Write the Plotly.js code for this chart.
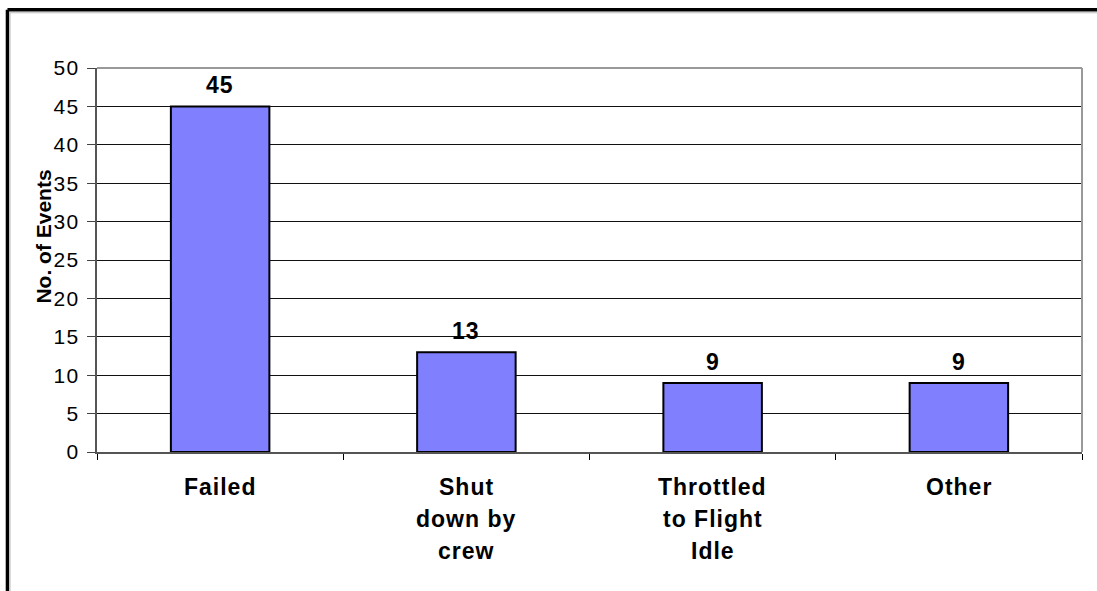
<!DOCTYPE html>
<html>
<head>
<meta charset="utf-8">
<script src="https://cdn.plot.ly/plotly-3.0.1.min.js"></script>
<style>
  html, body { margin: 0; padding: 0; background: #fff; }
  #chart { width: 1097px; height: 591px; }
</style>
</head>
<body>
<div id="chart"></div>
<script>
// ---- data ----
const categories = ["Failed", "Shut down by crew", "Throttled to Flight Idle", "Other"];
const labelLines = [["Failed"], ["Shut", "down by", "crew"], ["Throttled", "to Flight", "Idle"], ["Other"]];
const events = [45, 13, 9, 9];
const yTickVals = [0, 5, 10, 15, 20, 25, 30, 35, 40, 45, 50];
const yTitle = "No. of Events";

const FONT = "Liberation Sans, Arial, Helvetica, sans-serif";
const spaced = (t, s) => '<span style="letter-spacing:' + s + 'px">' + t + '</span>';

const trace = {
  type: "bar",
  x: categories,
  y: events,
  width: 0.4,
  marker: { color: "#8080FF", line: { color: "#000000", width: 2 } },
  hoverinfo: "x+y",
  showlegend: false
};

const annotations = [];
// value labels above bars
categories.forEach((c, i) => {
  annotations.push({
    xref: "x", yref: "y", x: c, y: events[i],
    text: spaced(String(events[i]), 1), showarrow: false,
    yanchor: "bottom", yshift: 6,
    font: { family: FONT, size: 23, color: "#000", weight: "bold" }
  });
});
// category labels (multi-line)
categories.forEach((c, i) => {
  labelLines[i].forEach((ln, j) => {
    annotations.push({
      xref: "x", yref: "paper", x: c, y: 0,
      text: spaced(ln, 1), showarrow: false,
      yanchor: "middle", yshift: -35 - 32 * j,
      font: { family: FONT, size: 23, color: "#000", weight: "bold" }
    });
  });
});
// y-axis title
annotations.push({
  xref: "paper", yref: "paper", x: -0.0538, y: 0.561,
  text: yTitle, showarrow: false, textangle: -90,
  xanchor: "center", yanchor: "middle",
  font: { family: FONT, size: 21, color: "#000", weight: "bold" }
});

const layout = {
  width: 1097, height: 591,
  margin: { l: 97, r: 15, t: 68, b: 139, pad: 0 },
  paper_bgcolor: "#ffffff",
  plot_bgcolor: "#ffffff",
  font: { family: FONT, color: "#000" },
  xaxis: {
    type: "category",
    showticklabels: false,
    ticks: "outside", tickson: "boundaries", ticklen: 6, tickcolor: "#000", tickwidth: 1,
    showgrid: false, zeroline: false,
    showline: true, linecolor: "#555", linewidth: 2,
    fixedrange: true
  },
  yaxis: {
    range: [0, 50],
    tickmode: "array",
    tickvals: yTickVals,
    ticktext: yTickVals.map(v => spaced(String(v), 1.5)),
    ticks: "outside", ticklen: 8, tickcolor: "#444", tickwidth: 1,
    ticklabelstandoff: 3,
    tickfont: { family: FONT, size: 21, color: "#000" },
    showgrid: true, gridcolor: "#111", gridwidth: 1,
    zeroline: false,
    showline: true, linecolor: "#555", linewidth: 2,
    fixedrange: true
  },
  annotations: annotations,
  shapes: [
    // plot area top and right border (gray)
    { type: "line", xref: "paper", yref: "paper", x0: 0, x1: 1, y0: 1, y1: 1, line: { color: "#999", width: 2 } },
    { type: "line", xref: "paper", yref: "paper", x0: 1, x1: 1, y0: 0, y1: 1, line: { color: "#999", width: 2 } },
    // outer chart frame (thick black, top and left visible)
    { type: "line", xref: "paper", yref: "paper", x0: -0.0909, x1: 1.2, y0: 1.1516, y1: 1.1516, line: { color: "#000", width: 3.5 } },
    { type: "line", xref: "paper", yref: "paper", x0: -0.0909, x1: -0.0909, y0: -0.5, y1: 1.1516, line: { color: "#000", width: 3.5 } },
    // thin gray inner edge of frame
    { type: "line", xref: "paper", yref: "paper", x0: -0.0883, x1: 1.2, y0: 1.1438, y1: 1.1438, line: { color: "#bbb", width: 1 } },
    { type: "line", xref: "paper", yref: "paper", x0: -0.0883, x1: -0.0883, y0: -0.5, y1: 1.1438, line: { color: "#bbb", width: 1 } }
  ]
};

Plotly.newPlot("chart", [trace], layout, { displayModeBar: false });
</script>
</body>
</html>
